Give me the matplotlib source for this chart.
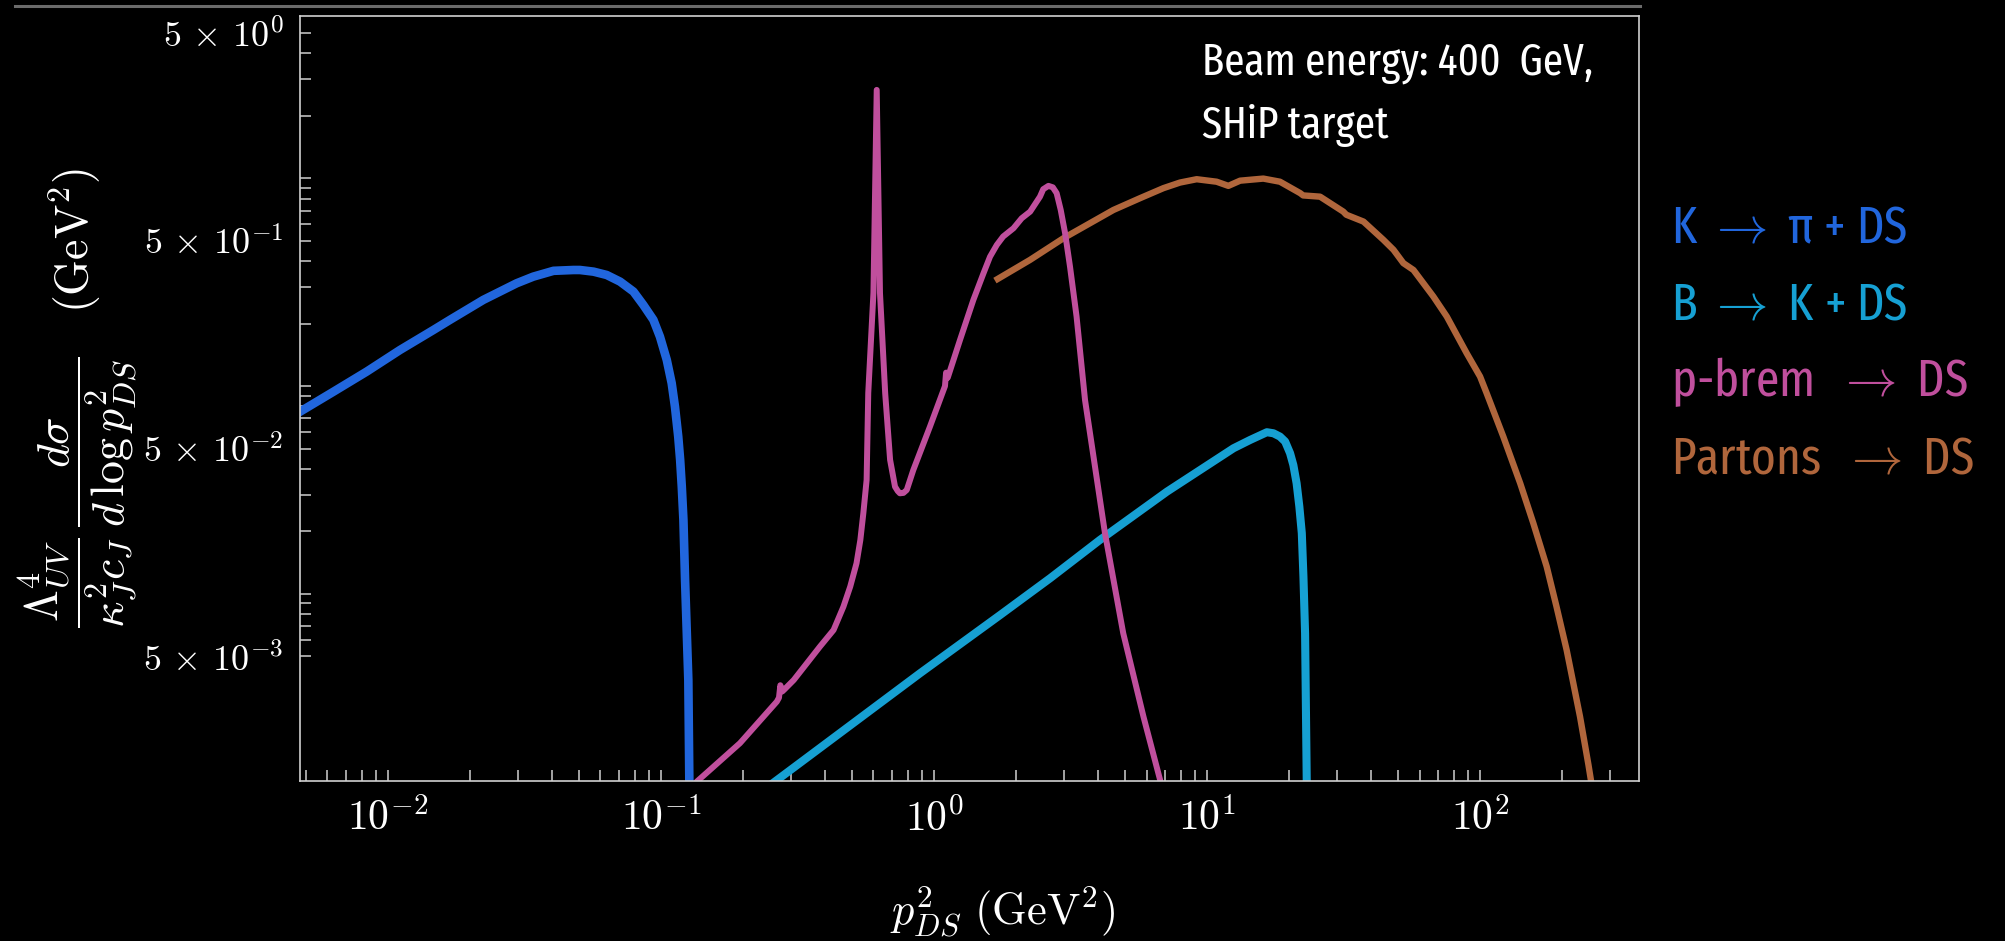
import os
import numpy as np
import matplotlib
matplotlib.use("Agg")
import matplotlib.pyplot as plt
from matplotlib import font_manager as fm
from matplotlib.lines import Line2D
from matplotlib.ticker import FixedLocator, FixedFormatter, NullFormatter

# curves, stored as log10 of the values
kpi_logx = [-2.330, -2.322, -2.200, -2.078, -1.956, -1.834, -1.773, -1.712,
            -1.651, -1.590, -1.529, -1.468, -1.394, -1.321, -1.297, -1.247,
            -1.199, -1.150, -1.101, -1.065, -1.028, -1.004, -0.979, -0.961,
            -0.949, -0.937, -0.930, -0.924, -0.918, -0.912, -0.900, -0.896]
kpi_logy = [-1.130, -1.123, -1.027, -0.930, -0.826, -0.730, -0.681, -0.633,
            -0.585, -0.545, -0.505, -0.473, -0.445, -0.441, -0.441, -0.449,
            -0.465, -0.497, -0.545, -0.609, -0.681, -0.762, -0.874, -0.986,
            -1.099, -1.243, -1.355, -1.484, -1.644, -1.933, -2.415, -2.950]

bk_logx = [-0.600, -0.589, -0.051, 0.242, 0.425, 0.608, 0.853, 1.097, 1.158,
           1.219, 1.243, 1.267, 1.286, 1.304, 1.316, 1.328, 1.338, 1.347,
           1.353, 1.359, 1.365, 1.366]
bk_logy = [-2.920, -2.910, -2.382, -2.102, -1.925, -1.740, -1.508, -1.299,
           -1.259, -1.222, -1.227, -1.243, -1.267, -1.323, -1.380, -1.468,
           -1.580, -1.708, -1.918, -2.190, -2.896, -2.950]

brem_logx = [-0.880, -0.869, -0.711, -0.576, -0.568, -0.563, -0.556, -0.548,
             -0.514, -0.418, -0.368, -0.332, -0.307, -0.284, -0.270, -0.259,
             -0.253, -0.247, -0.241, -0.222, -0.210, -0.198, -0.179, -0.161,
             -0.143, -0.133, -0.125, -0.112, -0.100, -0.076, -0.015, 0.040,
             0.044, 0.050, 0.095, 0.144, 0.181, 0.205, 0.230, 0.253, 0.291,
             0.321, 0.352, 0.388, 0.400, 0.419, 0.435, 0.449, 0.464, 0.480,
             0.498, 0.522, 0.553, 0.626, 0.693, 0.767, 0.828, 0.835]
brem_logy = [-2.930, -2.904, -2.719, -2.519, -2.500, -2.440, -2.470, -2.460,
             -2.415, -2.254, -2.174, -2.062, -1.965, -1.853, -1.741, -1.612,
             -1.532, -1.452, -1.033, -0.551, 0.426, -0.553, -1.034, -1.355,
             -1.484, -1.505, -1.516, -1.514, -1.500, -1.404, -1.195, -1.000,
             -0.935, -0.960, -0.778, -0.585, -0.457, -0.377, -0.320, -0.280,
             -0.240, -0.192, -0.160, -0.088, -0.052, -0.036, -0.043, -0.071,
             -0.152, -0.264, -0.425, -0.665, -1.067, -1.708, -2.190, -2.591,
             -2.896, -2.950]

part_logx = [0.223, 0.352, 0.474, 0.657, 0.755, 0.840, 0.901, 0.962, 1.035,
             1.078, 1.121, 1.206, 1.267, 1.341, 1.352, 1.414, 1.499, 1.510,
             1.573, 1.646, 1.683, 1.719, 1.756, 1.829, 1.878, 1.951, 2.000,
             2.024, 2.085, 2.147, 2.195, 2.244, 2.280, 2.317, 2.366, 2.397,
             2.410]
part_logy = [-0.492, -0.392, -0.288, -0.152, -0.095, -0.047, -0.020, -0.004,
             -0.016, -0.036, -0.011, -0.001, -0.016, -0.071, -0.082, -0.088,
             -0.160, -0.175, -0.208, -0.296, -0.344, -0.408, -0.441, -0.569,
             -0.665, -0.842, -0.954, -1.034, -1.243, -1.468, -1.660, -1.869,
             -2.062, -2.270, -2.591, -2.824, -2.930]

legend_labels = [r"K $\rightarrow$ π + DS", r"B $\rightarrow$ K + DS",
                 r"p-brem  $\rightarrow$ DS", r"Partons  $\rightarrow$ DS"]
colors = ["#2166dd", "#16a0d3", "#c04f9d", "#b0663c"]
beam_lines = ["Beam energy: 400  GeV,", "SHiP target"]

x_major = [1e-2, 1e-1, 1e0, 1e1, 1e2]
x_major_labels = [r"$10^{-2}$", r"$10^{-1}$", r"$10^{0}$", r"$10^{1}$", r"$10^{2}$"]
y_major = [5e-3, 5e-2, 5e-1, 5e0]
y_major_labels = [r"$5\,\times\,10^{-3}$", r"$5\,\times\,10^{-2}$",
                  r"$5\,\times\,10^{-1}$", r"$5\,\times\,10^{0}$"]


def pick_narrow_font():
    prefs = ["ExtraCondensed-Regular", "ExtraCondensed.", "Condensed-Regular",
             "Narrow-Regular", "SansCondensed.ttf"]
    files = [f.fname for f in fm.fontManager.ttflist]
    for p in prefs:
        for fn in files:
            if p in os.path.basename(fn):
                return fn
    return None


plt.rcParams["mathtext.fontset"] = "cm"
narrow = pick_narrow_font()


def narrow_prop(size):
    if narrow:
        return fm.FontProperties(fname=narrow, size=size)
    return fm.FontProperties(family="DejaVu Sans", size=size)


fig = plt.figure(figsize=(20.06, 9.41), dpi=100, facecolor="black")
ax = fig.add_axes([300 / 2006, 1 - 781 / 941, 1339 / 2006, 765 / 941])
ax.set_facecolor("black")

series = [(kpi_logx, kpi_logy, 6.2), (bk_logx, bk_logy, 5.8),
          (part_logx, part_logy, 4.6), (brem_logx, brem_logy, 4.3)]
order = [0, 1, 3, 2]
for (lx, ly, lw), ci in zip(series, order):
    ax.plot(10 ** np.array(lx), 10 ** np.array(ly), color=colors[ci], lw=lw,
            solid_joinstyle="round", solid_capstyle="butt")

ax.set_xscale("log")
ax.set_yscale("log")
ax.set_xlim(0.00476, 382)
ax.set_ylim(0.001256, 6.05)

x_minor = [m * 10.0 ** k for k in (-3, -2, -1, 0, 1) for m in range(2, 10)]
x_minor = [v for v in x_minor if v >= 5e-3] + [200, 300]
y_minor = [m * 10.0 ** k for k in (-3, -2, -1, 0) for m in range(1, 10) if m != 5]
y_minor = [v for v in y_minor if 5.5e-3 < v < 5.5]

ax.xaxis.set_major_locator(FixedLocator(x_major))
ax.xaxis.set_major_formatter(FixedFormatter(x_major_labels))
ax.xaxis.set_minor_locator(FixedLocator(x_minor))
ax.xaxis.set_minor_formatter(NullFormatter())
ax.yaxis.set_major_locator(FixedLocator(y_major))
ax.yaxis.set_major_formatter(FixedFormatter(y_major_labels))
ax.yaxis.set_minor_locator(FixedLocator(y_minor))
ax.yaxis.set_minor_formatter(NullFormatter())

ax.tick_params(which="both", direction="in", length=8, width=1.1,
               color="#d0d0d0", labelcolor="white", top=False, right=False)
ax.tick_params(axis="x", labelsize=30, pad=12)
ax.tick_params(axis="y", labelsize=26, pad=12)
for sp in ax.spines.values():
    sp.set_color("#d0d0d0")
    sp.set_linewidth(1.2)

fig.text(78 / 2006, 1 - 398 / 941,
         r"$\dfrac{\Lambda_{UV}^4}{\kappa_J^2 c_J}\,"
         r"\dfrac{d\sigma}{d\,\log p_{DS}^2}\quad(\mathrm{GeV}^2)$",
         color="white", fontsize=33, rotation=90, ha="center", va="center")
fig.text(1002 / 2006, 1 - 912 / 941, r"$p_{DS}^2\ (\mathrm{GeV}^2)$",
         color="white", fontsize=32, ha="center", va="center")

fig.text(1202 / 2006, 1 - 75 / 941, beam_lines[0], color="white",
         fontproperties=narrow_prop(32), va="baseline")
fig.text(1202 / 2006, 1 - 138 / 941, beam_lines[1], color="white",
         fontproperties=narrow_prop(32), va="baseline")

for i, (lab, col) in enumerate(zip(legend_labels, colors)):
    fig.text(1671 / 2006, 1 - (243 + 76.7 * i) / 941, lab, color=col,
             fontproperties=narrow_prop(37), va="baseline")

fig.add_artist(Line2D([15 / 2006, 1640 / 2006], [1 - 6 / 941] * 2,
                      color="#6b6b6b", lw=2.2))

fig.savefig("out.png", dpi=100, facecolor="black")
